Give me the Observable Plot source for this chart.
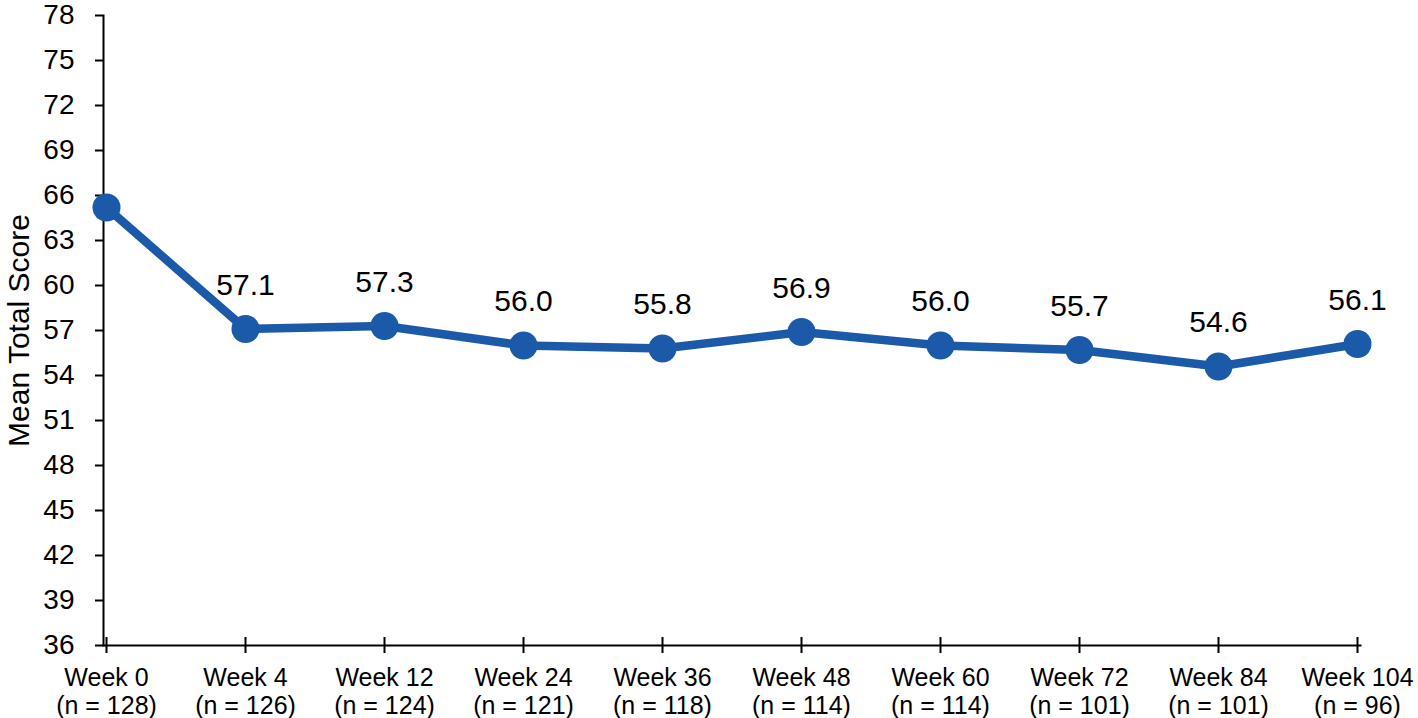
<!DOCTYPE html>
<html>
<head>
<meta charset="utf-8">
<script src="https://cdn.jsdelivr.net/npm/d3@7"></script>
<script src="https://cdn.jsdelivr.net/npm/@observablehq/plot@0.6"></script>
<style>
  html, body { margin: 0; padding: 0; background: #fff; }
  #chart { width: 1418px; height: 718px; }
</style>
</head>
<body>
<div id="chart"></div>
<script>
const weeks = ["Week 0", "Week 4", "Week 12", "Week 24", "Week 36", "Week 48", "Week 60", "Week 72", "Week 84", "Week 104"];
const nCounts = [128, 126, 124, 121, 118, 114, 114, 101, 101, 96];
const meanScores = [65.2, 57.1, 57.3, 56.0, 55.8, 56.9, 56.0, 55.7, 54.6, 56.1];
const showLabel = [false, true, true, true, true, true, true, true, true, true];
const yTicks = [36, 39, 42, 45, 48, 51, 54, 57, 60, 63, 66, 69, 72, 75, 78];

const data = weeks.map((w, i) => ({week: w, n: nCounts[i], score: meanScores[i], label: showLabel[i]}));
const nByWeek = new Map(data.map(d => [d.week, d.n]));
const blue = "#1b5aa8";
const font = "'Liberation Sans', Arial, sans-serif";

const chart = Plot.plot({
  width: 1418,
  height: 718,
  marginLeft: 103,
  marginRight: 58,
  marginTop: 15,
  marginBottom: 73,
  style: {fontFamily: font, color: "#000", background: "#fff"},
  x: {type: "point", domain: weeks, padding: 0},
  y: {domain: [36, 78]},
  marks: [
    Plot.frame({anchor: "left", stroke: "#000", strokeWidth: 2}),
    Plot.frame({anchor: "bottom", stroke: "#000", strokeWidth: 2}),
    Plot.axisY({ticks: yTicks, tickSize: 8, tickPadding: 21, fontSize: 28, strokeWidth: 2,
      label: "Mean Total Score", labelAnchor: "center", labelArrow: "none", labelOffset: 96}),
    Plot.axisX({tickSize: 8, tickPadding: 12, fontSize: 25, strokeWidth: 2, lineHeight: 1.13, label: null,
      tickFormat: w => `${w}\n(n = ${nByWeek.get(w)})`}),
    Plot.axisX({tickSize: 8, dy: -8, strokeWidth: 2, label: null, tickFormat: () => ""}),
    Plot.line(data, {x: "week", y: "score", stroke: blue, strokeWidth: 8.5}),
    Plot.dot(data, {x: "week", y: "score", r: 14, fill: blue, stroke: "none"}),
    Plot.text(data.filter(d => d.label), {x: "week", y: "score", text: d => d.score.toFixed(1), dy: -44, fontSize: 30, fill: "#000"})
  ]
});
chart.querySelectorAll("g[aria-label='y-axis label'] text, g[aria-label='y-axis label']").forEach(el => el.setAttribute("font-size", 30));
document.getElementById("chart").appendChild(chart);
</script>
</body>
</html>
